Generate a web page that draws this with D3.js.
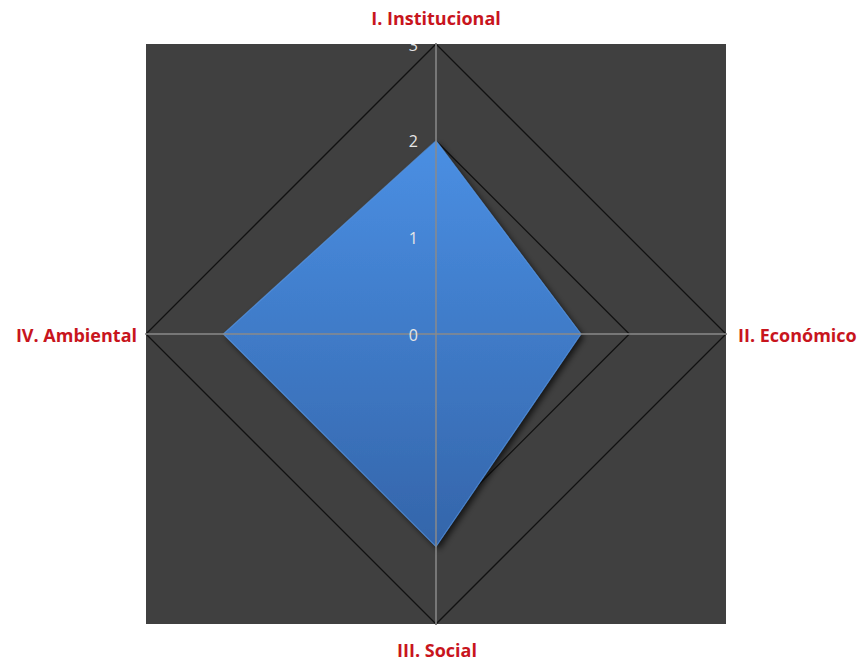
<!DOCTYPE html>
<html>
<head>
<meta charset="utf-8">
<script src="https://cdn.jsdelivr.net/npm/d3@7"></script>
<style>
  html, body { margin: 0; padding: 0; background: #ffffff; }
  svg { display: block; }
</style>
</head>
<body>
<svg id="chart" width="861" height="662"></svg>
<script>
const categories = ["I. Institucional", "II. Económico", "III. Social", "IV. Ambiental"];
const values = [2, 1.5, 2.2, 2.2];
const tickValues = [0, 1, 2, 3];
const tickLabels = ["0", "1", "2", "3"];

const svg = d3.select("#chart");
const cx = 436, cy = 334, R = 290;
const r = d3.scaleLinear().domain([0, 3]).range([0, R]);
const angle = d3.scaleLinear().domain([0, categories.length]).range([0, 2 * Math.PI]);

const defs = svg.append("defs");
const grad = defs.append("linearGradient").attr("id", "blueGrad")
  .attr("x1", 0).attr("y1", 0).attr("x2", 0).attr("y2", 1);
grad.append("stop").attr("offset", "0%").attr("stop-color", "#4a8fe3");
grad.append("stop").attr("offset", "100%").attr("stop-color", "#3465aa");

const shadow = defs.append("filter").attr("id", "shadow")
  .attr("x", "-20%").attr("y", "-20%").attr("width", "140%").attr("height", "140%");
shadow.append("feGaussianBlur").attr("in", "SourceAlpha").attr("stdDeviation", 3).attr("result", "b");
shadow.append("feOffset").attr("in", "b").attr("dx", 3).attr("dy", 3).attr("result", "o");
shadow.append("feComponentTransfer").attr("in", "o").attr("result", "o2")
  .append("feFuncA").attr("type", "linear").attr("slope", 0.7);
const merge = shadow.append("feMerge");
merge.append("feMergeNode").attr("in", "o2");
merge.append("feMergeNode").attr("in", "SourceGraphic");

defs.append("clipPath").attr("id", "plotClip").append("rect")
  .attr("x", cx - R).attr("y", cy - R).attr("width", 2 * R).attr("height", 2 * R);

// plot background
svg.append("rect")
  .attr("x", cx - R).attr("y", cy - R).attr("width", 2 * R).attr("height", 2 * R)
  .attr("fill", "#404040");

const g = svg.append("g").attr("transform", `translate(${cx},${cy})`);

const radial = d3.lineRadial().angle((d, i) => angle(i)).radius(d => r(d)).curve(d3.curveLinearClosed);

// gridlines
g.selectAll("path.grid").data(tickValues.filter(t => t > 0)).join("path")
  .attr("class", "grid")
  .attr("d", t => radial(categories.map(() => t)))
  .attr("fill", "none").attr("stroke", "#111111").attr("stroke-width", 1.3);

// data polygon
g.append("path")
  .attr("d", radial(values))
  .attr("fill", "url(#blueGrad)")
  .attr("filter", "url(#shadow)");
g.append("path")
  .attr("d", radial(values))
  .attr("fill", "none").attr("stroke", "#5c9ef0").attr("stroke-width", 1.2).attr("stroke-opacity", 0.6);

// axes
g.selectAll("line.axis").data(categories).join("line")
  .attr("class", "axis")
  .attr("x1", 0).attr("y1", 0)
  .attr("x2", (d, i) => r(3) * Math.sin(angle(i)))
  .attr("y2", (d, i) => -r(3) * Math.cos(angle(i)))
  .attr("stroke", "#8a8a8a").attr("stroke-width", 1.5);

// tick labels (clipped to plot area)
svg.append("g").attr("clip-path", "url(#plotClip)")
  .selectAll("text").data(tickValues).join("text")
  .attr("x", cx - 18)
  .attr("y", t => cy - r(t) + 1)
  .attr("dy", "0.36em")
  .attr("text-anchor", "end")
  .attr("font-family", "'Open Sans', sans-serif")
  .attr("font-size", 16)
  .attr("fill", "#e6e6e6")
  .text((t, i) => tickLabels[i]);

// category labels
const labelPos = [
  { x: cx, y: 25, anchor: "middle" },
  { x: 738, y: cy + 8, anchor: "start" },
  { x: cx + 1, y: 657, anchor: "middle" },
  { x: 137, y: cy + 8, anchor: "end" }
];
svg.selectAll("text.cat").data(categories).join("text")
  .attr("class", "cat")
  .attr("x", (d, i) => labelPos[i].x)
  .attr("y", (d, i) => labelPos[i].y)
  .attr("text-anchor", (d, i) => labelPos[i].anchor)
  .attr("font-family", "'Open Sans', sans-serif")
  .attr("font-weight", "bold")
  .attr("font-size", 18)
  .attr("fill", "#c8151d")
  .text(d => d);
</script>
</body>
</html>
